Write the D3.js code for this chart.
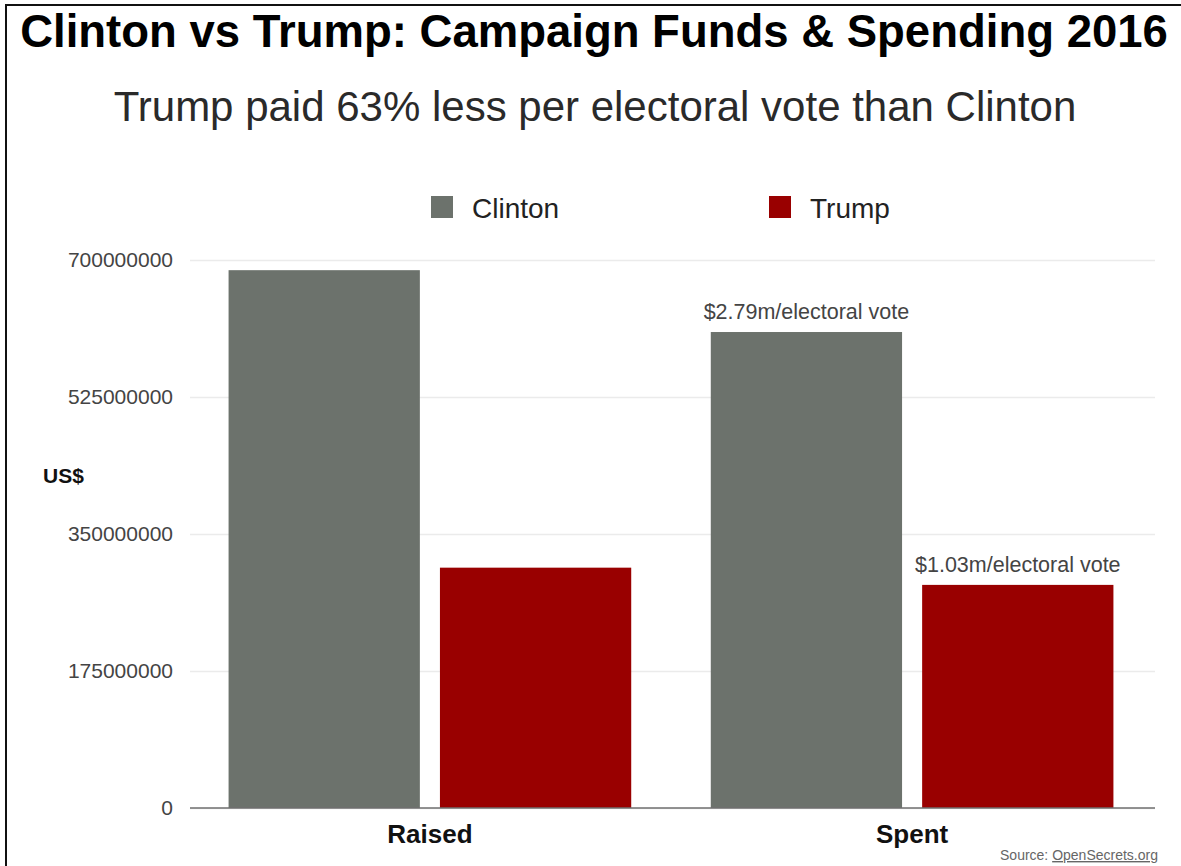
<!DOCTYPE html>
<html lang="en">
<head>
  <meta charset="UTF-8">
  <title>Clinton vs Trump: Campaign Funds & Spending 2016</title>
  <style>
    html, body { margin: 0; padding: 0; background: #fff; }
    svg { display: block; font-family: "Liberation Sans", Arial, Helvetica, sans-serif; }
  </style>
</head>
<body>
  <script src="https://d3js.org/d3.v7.min.js"></script>
  <script>
    // data
    const categories = ['Raised', 'Spent'];
    const series = ['Clinton', 'Trump'];
    const clintonValues = [687000000, 608000000];
    const trumpValues = [307000000, 285000000];
    const perVoteLabels = [null, ['$2.79m/electoral vote', '$1.03m/electoral vote']];
    const yTicks = [0, 175000000, 350000000, 525000000, 700000000];
    const colors = ['#6c726c', '#990000'];

    const width = 1181;
    const height = 866;

    const svg = d3.select('body')
      .append('svg')
      .attr('width', width)
      .attr('height', height);

    // frame (top and left edge visible)
    svg.append('line').attr('x1', 5).attr('x2', width).attr('y1', 5).attr('y2', 5)
      .attr('stroke', '#111').attr('stroke-width', 2);
    svg.append('line').attr('x1', 6).attr('x2', 6).attr('y1', 5).attr('y2', height)
      .attr('stroke', '#111').attr('stroke-width', 2);

    // titles
    svg.append('text')
      .attr('x', 594).attr('y', 47)
      .attr('text-anchor', 'middle')
      .attr('font-size', 45.5).attr('font-weight', 'bold').attr('fill', '#000')
      .text('Clinton vs Trump: Campaign Funds & Spending 2016');

    svg.append('text')
      .attr('x', 595).attr('y', 121)
      .attr('text-anchor', 'middle')
      .attr('font-size', 42).attr('fill', '#2a2a2a')
      .text('Trump paid 63% less per electoral vote than Clinton');

    // legend
    const legendX = [431, 769];
    const legend = svg.append('g');
    series.forEach((s, i) => {
      legend.append('rect')
        .attr('x', legendX[i]).attr('y', 196)
        .attr('width', 22).attr('height', 22)
        .attr('fill', colors[i]);
      legend.append('text')
        .attr('x', legendX[i] + 41).attr('y', 218)
        .attr('font-size', 28).attr('fill', '#222')
        .text(s);
    });

    // scales
    const y = d3.scaleLinear()
      .domain([0, 700000000])
      .range([808, 260]);

    const x0 = d3.scaleBand()
      .domain(categories)
      .range([190, 1152])
      .paddingInner(0.165)
      .paddingOuter(0.08);

    const x1 = d3.scaleBand()
      .domain(series)
      .range([0, x0.bandwidth()])
      .paddingInner(0.095);

    // gridlines
    const grid = svg.append('g')
      .attr('transform', 'translate(190,0)')
      .call(d3.axisLeft(y).tickValues(yTicks).tickSize(-965).tickFormat(''));
    grid.select('.domain').remove();
    grid.selectAll('.tick line').attr('stroke', '#ebebeb').attr('stroke-width', 1.5);

    // y axis labels
    const yAxis = svg.append('g')
      .attr('transform', 'translate(173,0)')
      .call(d3.axisLeft(y).tickValues(yTicks).tickSize(0).tickPadding(0).tickFormat(d3.format('d')));
    yAxis.select('.domain').remove();
    yAxis.selectAll('text')
      .attr('font-family', '"Liberation Sans", Arial, sans-serif')
      .attr('font-size', 21).attr('fill', '#444');

    svg.append('text')
      .attr('x', 43).attr('y', 483)
      .attr('font-size', 21).attr('font-weight', 'bold').attr('fill', '#111')
      .text('US$');

    // bars
    const rows = categories.map((c, i) => ({
      category: c,
      values: [clintonValues[i], trumpValues[i]]
    }));

    const groups = svg.append('g')
      .selectAll('g')
      .data(rows)
      .enter()
      .append('g')
      .attr('transform', d => `translate(${x0(d.category)},0)`);

    groups.selectAll('rect')
      .data(d => d.values.map((v, i) => ({ series: series[i], value: v })))
      .enter()
      .append('rect')
      .attr('x', d => x1(d.series))
      .attr('y', d => y(d.value))
      .attr('width', x1.bandwidth())
      .attr('height', d => y(0) - y(d.value))
      .attr('fill', (d, i) => colors[i]);

    // per electoral vote annotations
    groups.each(function (d, gi) {
      const labels = perVoteLabels[gi];
      if (!labels) return;
      d3.select(this).selectAll('text.ann')
        .data(d.values)
        .enter()
        .append('text')
        .attr('class', 'ann')
        .attr('x', (v, i) => x1(series[i]) + x1.bandwidth() / 2)
        .attr('y', v => y(v) - 13)
        .attr('text-anchor', 'middle')
        .attr('font-size', 21.5).attr('fill', '#444')
        .text((v, i) => labels[i]);
    });

    // baseline
    svg.append('line')
      .attr('x1', 190).attr('x2', 1155)
      .attr('y1', y(0)).attr('y2', y(0))
      .attr('stroke', '#6f6f6f').attr('stroke-width', 1.5);

    // x axis labels
    const xAxis = svg.append('g')
      .attr('transform', `translate(0,${y(0)})`)
      .call(d3.axisBottom(x0).tickSize(0).tickPadding(17));
    xAxis.select('.domain').remove();
    xAxis.selectAll('text')
      .attr('font-family', '"Liberation Sans", Arial, sans-serif')
      .attr('font-size', 26).attr('font-weight', 'bold').attr('fill', '#111');

    // source
    const source = svg.append('text')
      .attr('x', 1158).attr('y', 860)
      .attr('text-anchor', 'end')
      .attr('font-size', 14).attr('fill', '#666');
    source.append('tspan').text('Source: ');
    source.append('tspan').attr('text-decoration', 'underline').text('OpenSecrets.org');
  </script>
</body>
</html>
